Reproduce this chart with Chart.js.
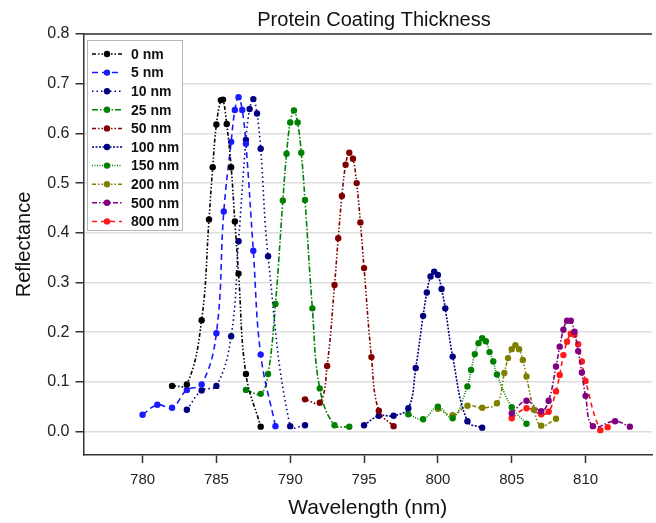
<!DOCTYPE html>
<html>
<head>
  <title>Protein Coating Thickness</title>
  <script src="https://cdn.jsdelivr.net/npm/chart.js@4.4.1/dist/chart.umd.min.js"></script>
  <style>
    body {
      margin: 0;
      padding: 0;
      background-color: white;
    }
    #wrap {
      width: 656px;
      height: 523px;
    }
  </style>
</head>
<body>
  <div id="wrap">
    <canvas id="chart" width="656" height="523"></canvas>
  </div>

  <script>
    // Axis ticks
    var xTicks = [780, 785, 790, 795, 800, 805, 810];
    var yTicks = [0.0, 0.1, 0.2, 0.3, 0.4, 0.5, 0.6, 0.7, 0.8];

    // Series labels
    var seriesLabels = ['0 nm', '5 nm', '10 nm', '25 nm', '50 nm', '100 nm', '150 nm', '200 nm', '500 nm', '800 nm'];

    // Wavelength / reflectance for each coating thickness
    var wl0 = [782, 783, 784, 784.5, 784.75, 785, 785.3, 785.45, 785.7, 786, 786.25, 786.5, 787, 788];
    var r0 = [0.092, 0.095, 0.224, 0.427, 0.532, 0.618, 0.667, 0.668, 0.619, 0.532, 0.423, 0.318, 0.116, 0.010];

    var wl5 = [780, 781, 782, 783, 784, 785, 785.5, 786, 786.25, 786.5, 786.75, 787, 787.5, 788, 789];
    var r5 = [0.034, 0.054, 0.048, 0.084, 0.095, 0.198, 0.443, 0.583, 0.647, 0.673, 0.647, 0.579, 0.364, 0.155, 0.011];

    var wl10 = [783, 784, 785, 786, 786.5, 787, 787.25, 787.5, 787.75, 788, 788.5, 790, 791];
    var r10 = [0.044, 0.083, 0.092, 0.192, 0.383, 0.587, 0.649, 0.669, 0.640, 0.569, 0.353, 0.011, 0.013];

    var wl25 = [787, 788, 788.5, 789, 789.5, 789.75, 790, 790.25, 790.5, 790.75, 791, 791.5, 792, 793, 794];
    var r25 = [0.084, 0.076, 0.116, 0.257, 0.465, 0.559, 0.622, 0.646, 0.622, 0.561, 0.466, 0.248, 0.087, 0.013, 0.010];

    var wl50 = [791, 792, 792.5, 793, 793.25, 793.5, 793.75, 794, 794.25, 794.5, 794.75, 795, 795.5, 796, 797];
    var r50 = [0.065, 0.058, 0.132, 0.295, 0.389, 0.474, 0.537, 0.561, 0.549, 0.500, 0.421, 0.329, 0.150, 0.042, 0.011];

    var wl100 = [795, 796, 797, 798, 798.5, 799, 799.25, 799.5, 799.75, 800, 800.25, 800.5, 801, 802, 803];
    var r100 = [0.013, 0.032, 0.032, 0.047, 0.128, 0.233, 0.280, 0.312, 0.322, 0.315, 0.287, 0.248, 0.151, 0.021, 0.008];

    var wl150 = [798, 799, 800, 801, 802, 802.25, 802.5, 802.75, 803, 803.25, 803.5, 803.75, 804, 805, 806];
    var r150 = [0.035, 0.025, 0.050, 0.027, 0.091, 0.124, 0.156, 0.178, 0.188, 0.182, 0.160, 0.141, 0.115, 0.049, 0.016];

    var wl200 = [800, 801, 802, 803, 804, 804.5, 804.75, 805, 805.25, 805.5, 805.75, 806, 806.5, 807, 808];
    var r200 = [0.046, 0.033, 0.052, 0.048, 0.057, 0.118, 0.148, 0.166, 0.174, 0.166, 0.144, 0.111, 0.044, 0.012, 0.026];

    var wl500 = [805, 806, 807, 807.5, 808, 808.25, 808.5, 808.75, 809, 809.25, 809.5, 809.75, 810, 810.5, 812, 813];
    var r500 = [0.037, 0.062, 0.041, 0.062, 0.131, 0.171, 0.205, 0.223, 0.223, 0.201, 0.162, 0.119, 0.072, 0.011, 0.021, 0.010];

    var wl800 = [805, 806, 807, 807.5, 808, 808.25, 808.5, 808.75, 809, 809.25, 809.5, 809.75, 810, 811, 811.5];
    var r800 = [0.027, 0.047, 0.035, 0.040, 0.081, 0.114, 0.154, 0.181, 0.197, 0.195, 0.176, 0.141, 0.102, 0.003, 0.009];

    var allWl = [wl0, wl5, wl10, wl25, wl50, wl100, wl150, wl200, wl500, wl800];
    var allR = [r0, r5, r10, r25, r50, r100, r150, r200, r500, r800];

    var colors = ['#000000', '#1a1aff', '#000080', '#008000', '#800000', '#000080', '#008000', '#808000', '#800080', '#ff1a1a'];
    var dashes = [
      [4, 2, 1.5, 2, 1.5, 2],
      [6, 4],
      [1.5, 3],
      [6, 2, 1.5, 2],
      [4, 2, 1.5, 2, 1.5, 2],
      [2, 1.5],
      [1, 1.5],
      [4, 2, 1.5, 2, 1.5, 2],
      [5, 2, 1.5, 2],
      [5, 4]
    ];

    var datasets = [];
    for (var i = 0; i < seriesLabels.length; i++) {
      var pts = [];
      for (var j = 0; j < allWl[i].length; j++) {
        pts.push({ x: allWl[i][j], y: allR[i][j] });
      }
      datasets.push({
        label: seriesLabels[i],
        data: pts,
        borderColor: colors[i],
        backgroundColor: colors[i],
        pointBackgroundColor: colors[i],
        pointBorderWidth: 0,
        pointRadius: 3.2,
        borderWidth: 1.6,
        borderDash: dashes[i],
        tension: 0.4,
        fill: false
      });
    }

    var fontFamily = '"Liberation Sans", Arial, sans-serif';

    // Title, top frame line and the boxed legend inside the plot
    var decorPlugin = {
      id: 'decor',
      afterDraw: function(chart) {
        var ctx = chart.ctx;
        var area = chart.chartArea;
        ctx.save();

        // top frame
        ctx.strokeStyle = '#333';
        ctx.lineWidth = 1.5;
        ctx.beginPath();
        ctx.moveTo(area.left, area.top);
        ctx.lineTo(area.right, area.top);
        ctx.stroke();

        // title
        ctx.fillStyle = '#111';
        ctx.font = '20px ' + fontFamily;
        ctx.textAlign = 'center';
        ctx.textBaseline = 'middle';
        ctx.fillText('Protein Coating Thickness', 374, 20);

        // legend
        var bx = 87.5, by = 40.5, bw = 95, bh = 190;
        ctx.fillStyle = 'white';
        ctx.fillRect(bx, by, bw, bh);
        ctx.strokeStyle = '#b8b8b8';
        ctx.lineWidth = 1;
        ctx.strokeRect(bx, by, bw, bh);

        ctx.font = 'bold 14px ' + fontFamily;
        ctx.textAlign = 'left';
        for (var k = 0; k < chart.data.datasets.length; k++) {
          var ds = chart.data.datasets[k];
          var yy = 54 + k * 18.6;
          ctx.strokeStyle = ds.borderColor;
          ctx.lineWidth = 1.5;
          ctx.setLineDash(ds.borderDash);
          ctx.beginPath();
          ctx.moveTo(92, yy);
          ctx.lineTo(122, yy);
          ctx.stroke();
          ctx.setLineDash([]);
          ctx.fillStyle = ds.borderColor;
          ctx.beginPath();
          ctx.arc(107, yy, 3.2, 0, Math.PI * 2);
          ctx.fill();
          ctx.fillStyle = '#111';
          ctx.fillText(ds.label, 131, yy + 1);
        }
        ctx.restore();
      }
    };

    var ctx = document.getElementById('chart').getContext('2d');
    var chart = new Chart(ctx, {
      type: 'line',
      data: { datasets: datasets },
      plugins: [decorPlugin],
      options: {
        responsive: false,
        animation: false,
        layout: {
          padding: { top: 34, right: 0, left: 0, bottom: 0 }
        },
        plugins: {
          legend: { display: false },
          title: { display: false },
          tooltip: { enabled: false }
        },
        scales: {
          x: {
            type: 'linear',
            min: 776,
            max: 814.5,
            afterBuildTicks: function(scale) {
              scale.ticks = xTicks.map(function(v) { return { value: v }; });
            },
            afterFit: function(scale) {
              scale.height = 68;
            },
            grid: {
              drawOnChartArea: false,
              tickLength: 8,
              tickColor: '#333',
              tickWidth: 1.5
            },
            border: { display: true, color: '#333', width: 1.5 },
            ticks: {
              color: '#222',
              padding: 8,
              maxRotation: 0,
              font: { family: fontFamily, size: 15 }
            },
            title: {
              display: true,
              text: 'Wavelength (nm)',
              color: '#111',
              padding: { top: 0, bottom: 2 },
              font: { family: fontFamily, size: 21 }
            }
          },
          y: {
            min: -0.047,
            max: 0.8,
            afterBuildTicks: function(scale) {
              scale.ticks = yTicks.map(function(v) { return { value: v }; });
            },
            afterFit: function(scale) {
              scale.width = 83.5;
            },
            grid: {
              color: '#dedede',
              lineWidth: 1.5,
              tickLength: 8,
              tickColor: '#333',
              tickWidth: 1.5
            },
            border: { display: true, color: '#333', width: 1.5 },
            ticks: {
              color: '#222',
              padding: 6,
              font: { family: fontFamily, size: 16 },
              callback: function(value) {
                return value.toFixed(1);
              }
            },
            title: {
              display: true,
              text: 'Reflectance',
              color: '#111',
              padding: { top: 12, bottom: 0 },
              font: { family: fontFamily, size: 20 }
            }
          }
        }
      }
    });
  </script>
</body>
</html>
